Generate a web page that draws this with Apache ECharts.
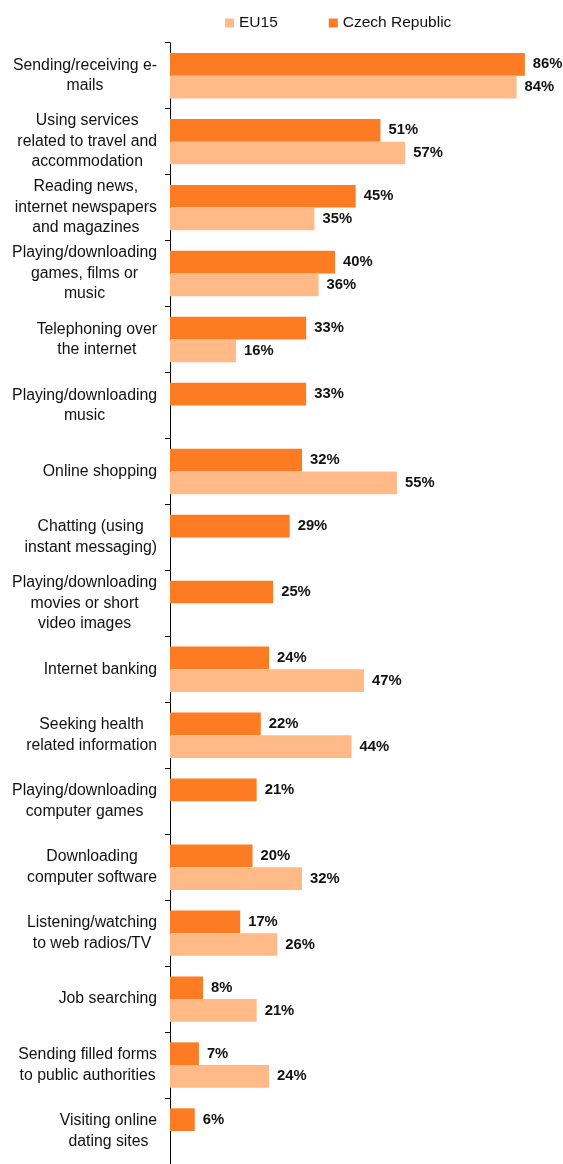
<!DOCTYPE html>
<html>
<head>
<meta charset="utf-8">
<style>
  html, body { margin: 0; padding: 0; background: #ffffff; }
  #chart { width: 563px; height: 1164px; }
</style>
<script src="https://cdn.jsdelivr.net/npm/echarts@6/dist/echarts.min.js"></script>
</head>
<body>
<div id="chart"></div>
<script>
// Internet activities: Czech Republic vs EU15 (share of internet users, %)
const categories = [
  'Sending/receiving e-\nmails',
  'Using services\nrelated to travel and\naccommodation',
  'Reading news,\ninternet newspapers\nand magazines',
  'Playing/downloading\ngames, films or\nmusic',
  'Telephoning over\nthe internet',
  'Playing/downloading\nmusic',
  'Online shopping',
  'Chatting (using\ninstant messaging)',
  'Playing/downloading\nmovies or short\nvideo images',
  'Internet banking',
  'Seeking health\nrelated information',
  'Playing/downloading\ncomputer games',
  'Downloading\ncomputer software',
  'Listening/watching\nto web radios/TV',
  'Job searching',
  'Sending filled forms\nto public authorities',
  'Visiting online\ndating sites'
];
const czechValues = [86, 51, 45, 40, 33, 33, 32, 29, 25, 24, 22, 21, 20, 17, 8, 7, 6];
const eu15Values  = [84, 57, 35, 36, 16, null, 55, null, null, 47, 44, null, 32, 26, 21, 24, null];

const FONT = '"Liberation Sans", Arial, Helvetica, sans-serif';
const COLOR_CZ = '#FD7B22';
const COLOR_EU = '#FFBA88';

const chart = echarts.init(document.getElementById('chart'), null, { renderer: 'canvas' });

const valueLabel = {
  show: true,
  position: 'right',
  distance: 8,
  formatter: p => p.value + '%',
  fontFamily: FONT,
  fontSize: 14.8,
  fontWeight: 'bold',
  color: '#111111'
};

chart.setOption({
  animation: false,
  backgroundColor: '#ffffff',
  legend: {
    data: ['EU15', 'Czech Republic'],
    left: 225,
    top: 15,
    padding: 0,
    icon: 'rect',
    itemWidth: 9,
    itemHeight: 9,
    itemGap: 51,
    textStyle: { fontFamily: FONT, fontSize: 15.5, color: '#111111' }
  },
  grid: {
    left: 170,
    right: 1,
    top: 42.7,
    bottom: -4.3,
    containLabel: false
  },
  xAxis: {
    type: 'value',
    min: 0,
    max: 95,
    show: false
  },
  yAxis: {
    type: 'category',
    data: categories,
    inverse: true,
    axisLine: { show: true, lineStyle: { color: '#000000', width: 1 } },
    axisTick: { show: true, inside: false, length: 5, lineStyle: { color: '#000000' } },
    axisLabel: {
      margin: 13,
      align: 'right',
      fontFamily: FONT,
      fontSize: 15.8,
      lineHeight: 20.5,
      color: '#111111',
      formatter: v => v.split('\n').map(line => '{c|' + line + '}').join('\n'),
      rich: {
        c: { align: 'center', fontFamily: FONT, fontSize: 15.8, lineHeight: 20.5, color: '#111111' }
      }
    },
    splitLine: { show: false }
  },
  series: [
    {
      name: 'Czech Republic',
      type: 'bar',
      data: czechValues,
      barWidth: 22.7,
      barGap: '0%',
      itemStyle: { color: COLOR_CZ },
      label: valueLabel
    },
    {
      name: 'EU15',
      type: 'bar',
      data: eu15Values,
      barWidth: 22.7,
      barGap: '0%',
      itemStyle: { color: COLOR_EU },
      label: valueLabel
    }
  ]
});
</script>
</body>
</html>
